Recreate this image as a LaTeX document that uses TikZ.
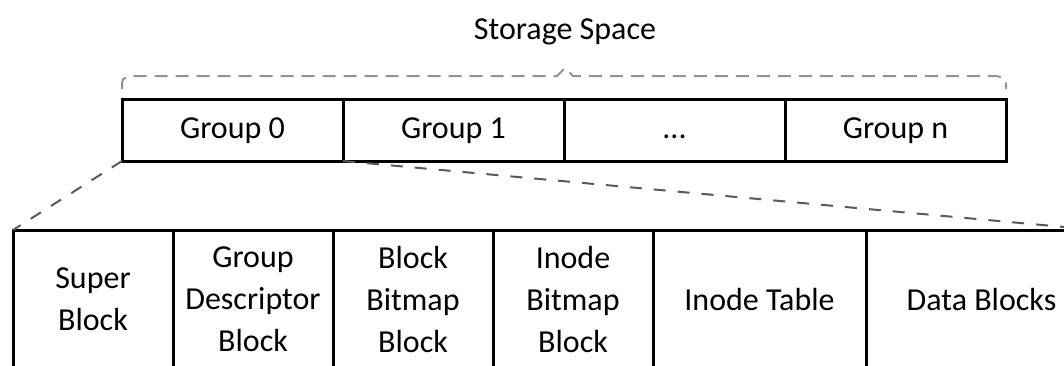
\documentclass[tikz,border=0pt]{standalone}
\usepackage{fontspec}
\setmainfont{Carlito}
\usetikzlibrary{positioning,calc}
\begin{document}
\begin{tikzpicture}[x=.5pt,y=-.5pt,font=\fontsize{16}{21}\selectfont,
  cell/.style={draw,line width=1.5pt,outer sep=0pt,inner sep=0pt,align=center},
  grp/.style={cell,minimum width=110.5pt,minimum height=31pt,text height=11pt,text depth=3pt},
  blk/.style={cell,minimum width=80pt,minimum height=69pt},
  span/.style={draw=gray!85,line width=1pt,dash pattern=on 6.5pt off 4pt},
  link/.style={draw=black!65,line width=1pt,dash pattern=on 6pt off 6pt}]
\useasboundingbox(0,0)rectangle(1064,365);
% groups of the storage space
\node[grp,anchor=west](g0)at(122,130){Group 0};
\node[grp,right=0pt of g0](g1){Group 1};
\node[grp,right=0pt of g1](gdots){...};
\node[grp,right=0pt of gdots](gn){Group n};
\node(title)at(565,32){Storage Space};
\draw[span]($(g0.north west)+(0,-10)$)..controls($(g0.north west)+(0,-21)$)..($(g0.north west)+(10,-23)$)
  --(557,76)--(title.south|-0,68)--(573,76)
  --($(gn.north east)+(-10,-23)$)..controls($(gn.north east)+(0,-21)$)..($(gn.north east)+(0,-10)$);
% layout of one group
\node[blk,anchor=north west](sb)at(13,230){Super\\Block};
\node[blk,right=0pt of sb](gdb){Group\\Descriptor\\Block};
\node[blk,right=0pt of gdb](bbm){Block\\Bitmap\\Block};
\node[blk,right=0pt of bbm](ibm){Inode\\Bitmap\\Block};
\node[blk,right=0pt of ibm,minimum width=106.5pt](itab){Inode Table};
\node[blk,right=0pt of itab,minimum width=115.5pt](dblk){Data Blocks};
\draw[link](g0.south west)--(sb.north west);
\draw[link](g0.south east)--(dblk.north east);
\end{tikzpicture}
\end{document}
